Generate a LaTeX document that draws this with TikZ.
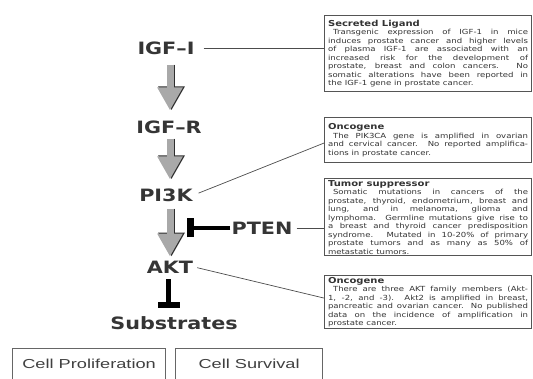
\documentclass[tikz,border=0pt]{standalone}
\usepackage{fontspec}
\usetikzlibrary{arrows.meta,calc}
\newfontfamily\labfont[FakeStretch=1.22]{DejaVu Sans}
\newfontfamily\boxfont[FakeStretch=1.22]{DejaVu Sans}
\newfontfamily\cellfont[FakeStretch=1.4]{Liberation Sans}
\definecolor{labgray}{HTML}{353535}
\definecolor{arrowgray}{HTML}{A9A9A9}
\definecolor{shadowgray}{HTML}{2E2E2E}
\definecolor{boxline}{HTML}{555555}
\tikzset{
  lab/.style={font=\labfont\bfseries\fontsize{17}{17}\selectfont, text=labgray, inner sep=1pt},
  infobox/.style={draw=boxline, line width=1.1pt, anchor=north west, text width=200pt,
    inner xsep=3.5pt, inner ysep=1.5pt, align=justify,
    font=\boxfont\fontsize{7}{8.5}\selectfont, text=black!80},
  blockshadow/.style={line width=7pt, draw=shadowgray, -{Triangle[width=25pt,length=24pt]}},
  blockarrow/.style={line width=7pt, draw=arrowgray, -{Triangle[width=24pt,length=23pt]}},
  inhib/.style={draw=black, line width=#1, -{Bar[width=19pt,line width=7pt]}},
  link/.style={draw=black!70, line width=0.7pt},
  cellbox/.style={draw=black!60, line width=1.2pt, anchor=north west, inner sep=0pt,
    text height=20pt, text depth=14pt, font=\cellfont\fontsize{13}{13}\selectfont, text=black!75}
}
\newcommand{\boxtitle}[1]{{\bfseries\fontsize{8.2}{8.5}\selectfont #1}\par}
\begin{document}
\begin{tikzpicture}[x=1pt,y=-1pt]
\useasboundingbox (0,0) rectangle (533,379);

% pathway labels
\node[lab] (igf1) at (166,48) {IGF–I};
\node[lab] (igfr) at (169,127) {IGF–R};
\node[lab] (pi3k) at (166,195) {PI3K};
\node[lab] (pten) at (262,228) {PTEN};
\node[lab] (akt)  at (170,267) {AKT};
\node[lab] (subs) at (174,323) {Substrates};

% info boxes
\node[infobox, minimum height=76pt] (box1) at (324,15) {\boxtitle{Secreted Ligand}\hspace*{5pt}Transgenic expression of IGF-1 in mice\linebreak
induces prostate cancer and higher levels\linebreak
of plasma IGF-1 are associated with an\linebreak
increased risk for the development of\linebreak
prostate, breast and colon cancers. No\linebreak
somatic alterations have been reported in\linebreak
the IGF-1 gene in prostate cancer.};

\node[infobox, minimum height=45pt] (box2) at (324,117) {\boxtitle{Oncogene}\hspace*{5pt}The PIK3CA gene is amplified in ovarian\linebreak
and cervical cancer. No reported amplifica-\linebreak
tions in prostate cancer.};

\node[infobox, minimum height=77pt] (box3) at (324,178) {\boxtitle{Tumor suppressor}\hspace*{5pt}Somatic mutations in cancers of the\linebreak
prostate, thyroid, endometrium, breast and\linebreak
lung, and in melanoma, glioma and\linebreak
lymphoma. Germline mutations give rise to\linebreak
a breast and thyroid cancer predisposition\linebreak
syndrome. Mutated in 10-20\% of primary\linebreak
prostate tumors and as many as 50\% of\linebreak
metastatic tumors.};

\node[infobox, minimum height=53pt] (box4) at (324,275) {\boxtitle{Oncogene}\hspace*{5pt}There are three AKT family members (Akt-\linebreak
1, -2, and -3). Akt2 is amplified in breast,\linebreak
pancreatic and ovarian cancer. No published\linebreak
data on the incidence of amplification in\linebreak
prostate cancer.};

% bottom boxes
\node[cellbox, minimum width=153pt] (cell1) at (12,348) {Cell Proliferation};
\node[cellbox, minimum width=147pt] (cell2) at (175,348) {Cell Survival};

% block arrows
\draw[blockshadow] ($(igf1.south)+(5.5,9)$) -- ($(igfr.north)+(2.5,-9)$);
\draw[blockarrow]  ($(igf1.south)+(4,9)$) -- ($(igfr.north)+(1,-9)$);
\draw[blockshadow] ($(igfr.south)+(2.5,4)$) -- ($(pi3k.north)+(5.5,-8)$);
\draw[blockarrow]  ($(igfr.south)+(1,4)$) -- ($(pi3k.north)+(4,-8)$);
\draw[blockshadow] ($(pi3k.south)+(5.5,6)$) -- ($(akt.north)+(1.5,-3)$);
\draw[blockarrow]  ($(pi3k.south)+(4,6)$) -- ($(akt.north)+(0,-3)$);

% inhibitions
\coordinate (ptenbar) at (187,228);
\draw[inhib=4pt] (pten.west) -- (ptenbar);
\draw[draw=black, line width=5.5pt, -{Bar[width=22pt,line width=6.5pt]}] ($(akt.south)+(-1.5,5)$) -- ($(subs.north)+(-5.5,-7)$);

% links to boxes
\draw[link, shorten <=8pt] (igf1.east) -- (igf1.east -| box1.west);
\draw[link, shorten <=5pt] (pi3k.east) -- ($(box2.west)+(0,3)$);
\draw[link, shorten <=3pt] (pten.east) -- (pten.east -| box3.west);
\draw[link, shorten <=3pt] (akt.east) -- ($(box4.west)+(0,-4)$);
\end{tikzpicture}
\end{document}
